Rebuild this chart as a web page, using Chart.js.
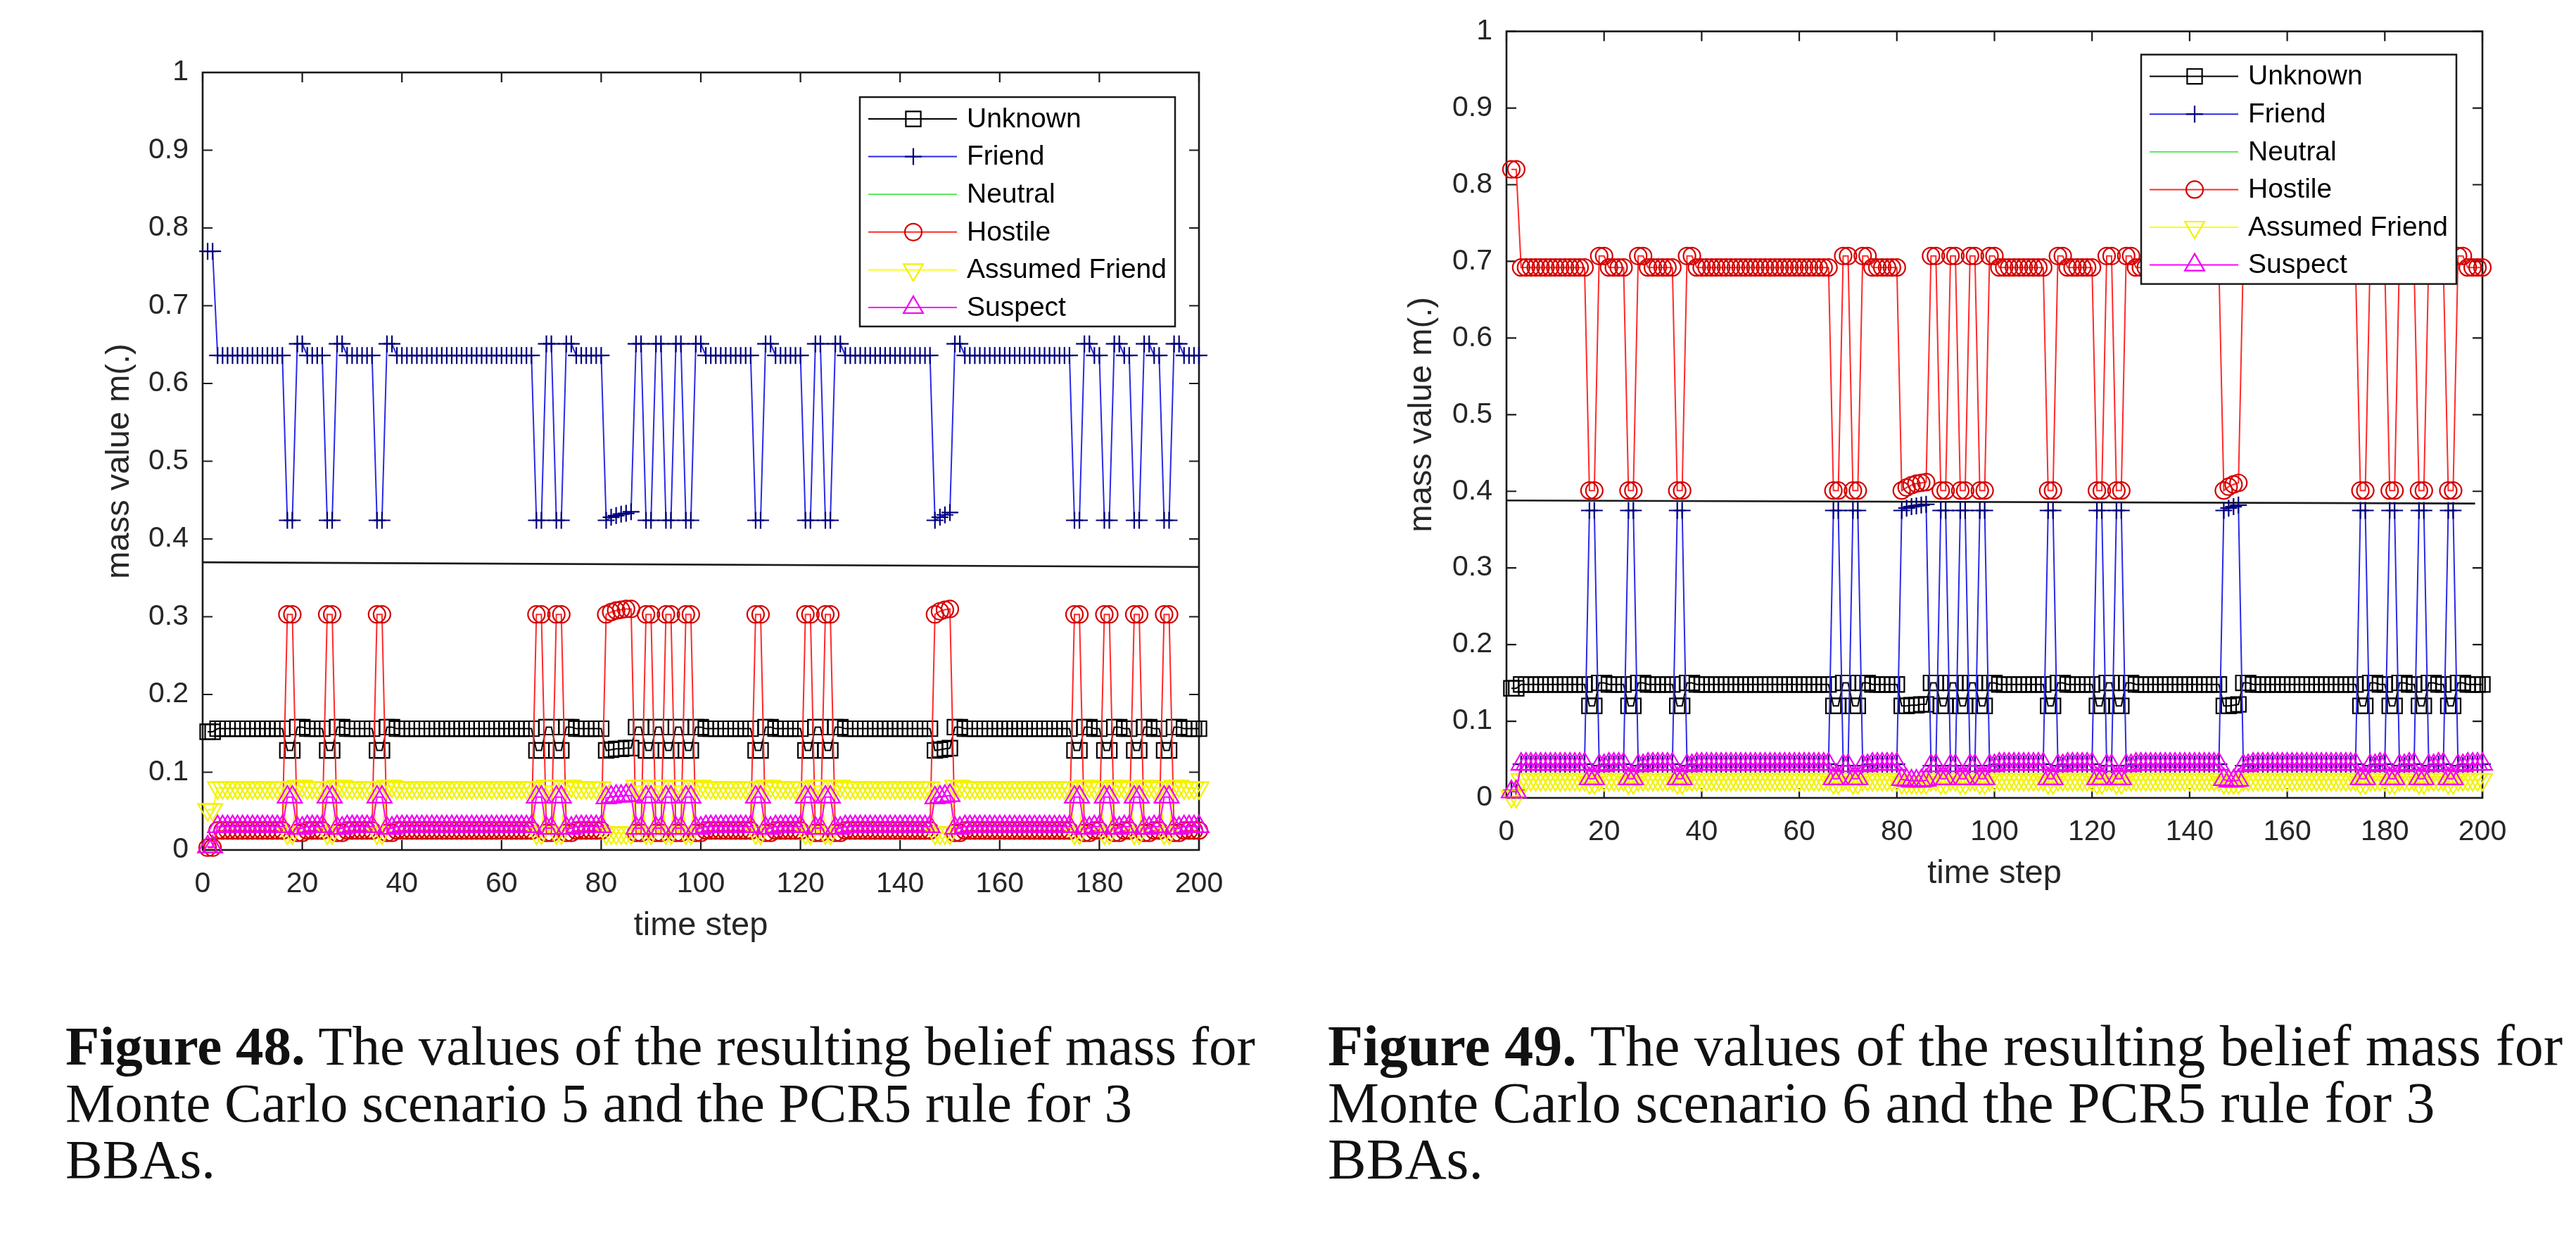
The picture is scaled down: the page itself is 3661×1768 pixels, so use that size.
<!DOCTYPE html>
<html>
<head>
<meta charset="utf-8">
<script src="https://cdn.jsdelivr.net/npm/chart.js@4.4.1/dist/chart.umd.min.js"></script>
<style>
  html, body { margin: 0; padding: 0; background: #fff; }
  body { width: 3661px; height: 1768px; position: relative; overflow: hidden; }
  canvas { position: absolute; top: 0; }
  #c5 { left: 0; }
  #c6 { left: 1853px; }
  .caption {
    position: absolute; top: 1447px;
    font-family: "Liberation Serif", "Times New Roman", serif;
    line-height: 80.5px; color: #111; white-space: nowrap;
  }
</style>
</head>
<body>
<canvas id="c5" width="1830" height="1400" style="width:1830px;height:1400px"></canvas>
<canvas id="c6" width="1808" height="1400" style="width:1808px;height:1400px"></canvas>
<div class="caption" style="left:93px;font-size:79px"><b>Figure 48.</b> The values of the resulting belief mass for<br>Monte Carlo scenario 5 and the PCR5 rule for 3<br>BBAs.</div>
<div class="caption" style="left:1887px;font-size:82px"><b>Figure 49.</b> The values of the resulting belief mass for<br>Monte Carlo scenario 6 and the PCR5 rule for 3<br>BBAs.</div>
<script>
// time steps (x)
const steps = [
  1,2,3,4,5,6,7,8,9,10,11,12,13,14,15,16,17,18,19,20,
  21,22,23,24,25,26,27,28,29,30,31,32,33,34,35,36,37,38,39,40,
  41,42,43,44,45,46,47,48,49,50,51,52,53,54,55,56,57,58,59,60,
  61,62,63,64,65,66,67,68,69,70,71,72,73,74,75,76,77,78,79,80,
  81,82,83,84,85,86,87,88,89,90,91,92,93,94,95,96,97,98,99,100,
  101,102,103,104,105,106,107,108,109,110,111,112,113,114,115,116,117,118,119,120,
  121,122,123,124,125,126,127,128,129,130,131,132,133,134,135,136,137,138,139,140,
  141,142,143,144,145,146,147,148,149,150,151,152,153,154,155,156,157,158,159,160,
  161,162,163,164,165,166,167,168,169,170,171,172,173,174,175,176,177,178,179,180,
  181,182,183,184,185,186,187,188,189,190,191,192,193,194,195,196,197,198,199,200
];

const seriesNames = ['Unknown', 'Friend', 'Neutral', 'Hostile', 'Assumed Friend', 'Suspect'];

// ---- Figure 48: scenario 5 ----
const unknown5 = [
  0.152,0.152,0.156,0.156,0.156,0.156,0.156,0.156,0.156,0.156,
  0.156,0.156,0.156,0.156,0.156,0.156,0.128,0.128,0.158,0.158,
  0.156,0.156,0.156,0.156,0.128,0.128,0.158,0.158,0.156,0.156,
  0.156,0.156,0.156,0.156,0.128,0.128,0.158,0.158,0.156,0.156,
  0.156,0.156,0.156,0.156,0.156,0.156,0.156,0.156,0.156,0.156,
  0.156,0.156,0.156,0.156,0.156,0.156,0.156,0.156,0.156,0.156,
  0.156,0.156,0.156,0.156,0.156,0.156,0.128,0.128,0.158,0.158,
  0.128,0.128,0.158,0.158,0.156,0.156,0.156,0.156,0.156,0.156,
  0.128,0.129,0.130,0.130,0.131,0.131,0.158,0.158,0.128,0.128,
  0.158,0.158,0.128,0.128,0.158,0.158,0.128,0.128,0.158,0.158,
  0.156,0.156,0.156,0.156,0.156,0.156,0.156,0.156,0.156,0.156,
  0.128,0.128,0.158,0.158,0.156,0.156,0.156,0.156,0.156,0.156,
  0.128,0.128,0.158,0.158,0.128,0.128,0.158,0.158,0.156,0.156,
  0.156,0.156,0.156,0.156,0.156,0.156,0.156,0.156,0.156,0.156,
  0.156,0.156,0.156,0.156,0.156,0.156,0.128,0.129,0.130,0.131,
  0.158,0.158,0.156,0.156,0.156,0.156,0.156,0.156,0.156,0.156,
  0.156,0.156,0.156,0.156,0.156,0.156,0.156,0.156,0.156,0.156,
  0.156,0.156,0.156,0.156,0.128,0.128,0.158,0.158,0.156,0.156,
  0.128,0.128,0.158,0.158,0.156,0.156,0.128,0.128,0.158,0.158,
  0.156,0.156,0.128,0.128,0.158,0.158,0.156,0.156,0.156,0.156
];
const friend5 = [
  0.770,0.770,0.636,0.636,0.636,0.636,0.636,0.636,0.636,0.636,
  0.636,0.636,0.636,0.636,0.636,0.636,0.424,0.424,0.651,0.651,
  0.636,0.636,0.636,0.636,0.424,0.424,0.651,0.651,0.636,0.636,
  0.636,0.636,0.636,0.636,0.424,0.424,0.651,0.651,0.636,0.636,
  0.636,0.636,0.636,0.636,0.636,0.636,0.636,0.636,0.636,0.636,
  0.636,0.636,0.636,0.636,0.636,0.636,0.636,0.636,0.636,0.636,
  0.636,0.636,0.636,0.636,0.636,0.636,0.424,0.424,0.651,0.651,
  0.424,0.424,0.651,0.651,0.636,0.636,0.636,0.636,0.636,0.636,
  0.424,0.428,0.430,0.432,0.433,0.435,0.651,0.651,0.424,0.424,
  0.651,0.651,0.424,0.424,0.651,0.651,0.424,0.424,0.651,0.651,
  0.636,0.636,0.636,0.636,0.636,0.636,0.636,0.636,0.636,0.636,
  0.424,0.424,0.651,0.651,0.636,0.636,0.636,0.636,0.636,0.636,
  0.424,0.424,0.651,0.651,0.424,0.424,0.651,0.651,0.636,0.636,
  0.636,0.636,0.636,0.636,0.636,0.636,0.636,0.636,0.636,0.636,
  0.636,0.636,0.636,0.636,0.636,0.636,0.424,0.428,0.431,0.434,
  0.651,0.651,0.636,0.636,0.636,0.636,0.636,0.636,0.636,0.636,
  0.636,0.636,0.636,0.636,0.636,0.636,0.636,0.636,0.636,0.636,
  0.636,0.636,0.636,0.636,0.424,0.424,0.651,0.651,0.636,0.636,
  0.424,0.424,0.651,0.651,0.636,0.636,0.424,0.424,0.651,0.651,
  0.636,0.636,0.424,0.424,0.651,0.651,0.636,0.636,0.636,0.636
];
const neutral5 = [
  0.052,0.052,0.080,0.080,0.080,0.080,0.080,0.080,0.080,0.080,
  0.080,0.080,0.080,0.080,0.080,0.080,0.022,0.022,0.082,0.082,
  0.080,0.080,0.080,0.080,0.022,0.022,0.082,0.082,0.080,0.080,
  0.080,0.080,0.080,0.080,0.022,0.022,0.082,0.082,0.080,0.080,
  0.080,0.080,0.080,0.080,0.080,0.080,0.080,0.080,0.080,0.080,
  0.080,0.080,0.080,0.080,0.080,0.080,0.080,0.080,0.080,0.080,
  0.080,0.080,0.080,0.080,0.080,0.080,0.022,0.022,0.082,0.082,
  0.022,0.022,0.082,0.082,0.080,0.080,0.080,0.080,0.080,0.080,
  0.022,0.022,0.022,0.022,0.022,0.022,0.082,0.082,0.022,0.022,
  0.082,0.082,0.022,0.022,0.082,0.082,0.022,0.022,0.082,0.082,
  0.080,0.080,0.080,0.080,0.080,0.080,0.080,0.080,0.080,0.080,
  0.022,0.022,0.082,0.082,0.080,0.080,0.080,0.080,0.080,0.080,
  0.022,0.022,0.082,0.082,0.022,0.022,0.082,0.082,0.080,0.080,
  0.080,0.080,0.080,0.080,0.080,0.080,0.080,0.080,0.080,0.080,
  0.080,0.080,0.080,0.080,0.080,0.080,0.022,0.022,0.022,0.022,
  0.082,0.082,0.080,0.080,0.080,0.080,0.080,0.080,0.080,0.080,
  0.080,0.080,0.080,0.080,0.080,0.080,0.080,0.080,0.080,0.080,
  0.080,0.080,0.080,0.080,0.022,0.022,0.082,0.082,0.080,0.080,
  0.022,0.022,0.082,0.082,0.080,0.080,0.022,0.022,0.082,0.082,
  0.080,0.080,0.022,0.022,0.082,0.082,0.080,0.080,0.080,0.080
];
const hostile5 = [
  0.003,0.003,0.025,0.025,0.025,0.025,0.025,0.025,0.025,0.025,
  0.025,0.025,0.025,0.025,0.025,0.025,0.303,0.303,0.022,0.022,
  0.025,0.025,0.025,0.025,0.303,0.303,0.022,0.022,0.025,0.025,
  0.025,0.025,0.025,0.025,0.303,0.303,0.022,0.022,0.025,0.025,
  0.025,0.025,0.025,0.025,0.025,0.025,0.025,0.025,0.025,0.025,
  0.025,0.025,0.025,0.025,0.025,0.025,0.025,0.025,0.025,0.025,
  0.025,0.025,0.025,0.025,0.025,0.025,0.303,0.303,0.022,0.022,
  0.303,0.303,0.022,0.022,0.025,0.025,0.025,0.025,0.025,0.025,
  0.303,0.306,0.308,0.309,0.310,0.310,0.022,0.022,0.303,0.303,
  0.022,0.022,0.303,0.303,0.022,0.022,0.303,0.303,0.022,0.022,
  0.025,0.025,0.025,0.025,0.025,0.025,0.025,0.025,0.025,0.025,
  0.303,0.303,0.022,0.022,0.025,0.025,0.025,0.025,0.025,0.025,
  0.303,0.303,0.022,0.022,0.303,0.303,0.022,0.022,0.025,0.025,
  0.025,0.025,0.025,0.025,0.025,0.025,0.025,0.025,0.025,0.025,
  0.025,0.025,0.025,0.025,0.025,0.025,0.303,0.307,0.309,0.310,
  0.022,0.022,0.025,0.025,0.025,0.025,0.025,0.025,0.025,0.025,
  0.025,0.025,0.025,0.025,0.025,0.025,0.025,0.025,0.025,0.025,
  0.025,0.025,0.025,0.025,0.303,0.303,0.022,0.022,0.025,0.025,
  0.303,0.303,0.022,0.022,0.025,0.025,0.303,0.303,0.022,0.022,
  0.025,0.025,0.303,0.303,0.022,0.022,0.025,0.025,0.025,0.025
];
const assumed5 = [
  0.052,0.052,0.080,0.080,0.080,0.080,0.080,0.080,0.080,0.080,
  0.080,0.080,0.080,0.080,0.080,0.080,0.022,0.022,0.082,0.082,
  0.080,0.080,0.080,0.080,0.022,0.022,0.082,0.082,0.080,0.080,
  0.080,0.080,0.080,0.080,0.022,0.022,0.082,0.082,0.080,0.080,
  0.080,0.080,0.080,0.080,0.080,0.080,0.080,0.080,0.080,0.080,
  0.080,0.080,0.080,0.080,0.080,0.080,0.080,0.080,0.080,0.080,
  0.080,0.080,0.080,0.080,0.080,0.080,0.022,0.022,0.082,0.082,
  0.022,0.022,0.082,0.082,0.080,0.080,0.080,0.080,0.080,0.080,
  0.022,0.022,0.022,0.022,0.022,0.022,0.082,0.082,0.022,0.022,
  0.082,0.082,0.022,0.022,0.082,0.082,0.022,0.022,0.082,0.082,
  0.080,0.080,0.080,0.080,0.080,0.080,0.080,0.080,0.080,0.080,
  0.022,0.022,0.082,0.082,0.080,0.080,0.080,0.080,0.080,0.080,
  0.022,0.022,0.082,0.082,0.022,0.022,0.082,0.082,0.080,0.080,
  0.080,0.080,0.080,0.080,0.080,0.080,0.080,0.080,0.080,0.080,
  0.080,0.080,0.080,0.080,0.080,0.080,0.022,0.022,0.022,0.022,
  0.082,0.082,0.080,0.080,0.080,0.080,0.080,0.080,0.080,0.080,
  0.080,0.080,0.080,0.080,0.080,0.080,0.080,0.080,0.080,0.080,
  0.080,0.080,0.080,0.080,0.022,0.022,0.082,0.082,0.080,0.080,
  0.022,0.022,0.082,0.082,0.080,0.080,0.022,0.022,0.082,0.082,
  0.080,0.080,0.022,0.022,0.082,0.082,0.080,0.080,0.080,0.080
];
const suspect5 = [
  0.004,0.004,0.030,0.030,0.030,0.030,0.030,0.030,0.030,0.030,
  0.030,0.030,0.030,0.030,0.030,0.030,0.068,0.068,0.028,0.028,
  0.030,0.030,0.030,0.030,0.068,0.068,0.028,0.028,0.030,0.030,
  0.030,0.030,0.030,0.030,0.068,0.068,0.028,0.028,0.030,0.030,
  0.030,0.030,0.030,0.030,0.030,0.030,0.030,0.030,0.030,0.030,
  0.030,0.030,0.030,0.030,0.030,0.030,0.030,0.030,0.030,0.030,
  0.030,0.030,0.030,0.030,0.030,0.030,0.068,0.068,0.028,0.028,
  0.068,0.068,0.028,0.028,0.030,0.030,0.030,0.030,0.030,0.030,
  0.067,0.068,0.069,0.069,0.070,0.070,0.028,0.028,0.068,0.068,
  0.028,0.028,0.068,0.068,0.028,0.028,0.068,0.068,0.028,0.028,
  0.030,0.030,0.030,0.030,0.030,0.030,0.030,0.030,0.030,0.030,
  0.068,0.068,0.028,0.028,0.030,0.030,0.030,0.030,0.030,0.030,
  0.068,0.068,0.028,0.028,0.068,0.068,0.028,0.028,0.030,0.030,
  0.030,0.030,0.030,0.030,0.030,0.030,0.030,0.030,0.030,0.030,
  0.030,0.030,0.030,0.030,0.030,0.030,0.067,0.068,0.069,0.070,
  0.028,0.028,0.030,0.030,0.030,0.030,0.030,0.030,0.030,0.030,
  0.030,0.030,0.030,0.030,0.030,0.030,0.030,0.030,0.030,0.030,
  0.030,0.030,0.030,0.030,0.068,0.068,0.028,0.028,0.030,0.030,
  0.068,0.068,0.028,0.028,0.030,0.030,0.068,0.068,0.028,0.028,
  0.030,0.030,0.068,0.068,0.028,0.028,0.030,0.030,0.030,0.030
];
const refX5 = [0, 200];
const refY5 = [0.370, 0.364];

// ---- Figure 49: scenario 6 ----
const unknown6 = [
  0.143,0.143,0.148,0.148,0.148,0.148,0.148,0.148,0.148,0.148,
  0.148,0.148,0.148,0.148,0.148,0.148,0.120,0.120,0.150,0.150,
  0.148,0.148,0.148,0.148,0.120,0.120,0.150,0.150,0.148,0.148,
  0.148,0.148,0.148,0.148,0.120,0.120,0.150,0.150,0.148,0.148,
  0.148,0.148,0.148,0.148,0.148,0.148,0.148,0.148,0.148,0.148,
  0.148,0.148,0.148,0.148,0.148,0.148,0.148,0.148,0.148,0.148,
  0.148,0.148,0.148,0.148,0.148,0.148,0.120,0.120,0.150,0.150,
  0.120,0.120,0.150,0.150,0.148,0.148,0.148,0.148,0.148,0.148,
  0.120,0.120,0.121,0.121,0.122,0.122,0.150,0.150,0.120,0.120,
  0.150,0.150,0.120,0.120,0.150,0.150,0.120,0.120,0.150,0.150,
  0.148,0.148,0.148,0.148,0.148,0.148,0.148,0.148,0.148,0.148,
  0.120,0.120,0.150,0.150,0.148,0.148,0.148,0.148,0.148,0.148,
  0.120,0.120,0.150,0.150,0.120,0.120,0.150,0.150,0.148,0.148,
  0.148,0.148,0.148,0.148,0.148,0.148,0.148,0.148,0.148,0.148,
  0.148,0.148,0.148,0.148,0.148,0.148,0.120,0.120,0.121,0.122,
  0.150,0.150,0.148,0.148,0.148,0.148,0.148,0.148,0.148,0.148,
  0.148,0.148,0.148,0.148,0.148,0.148,0.148,0.148,0.148,0.148,
  0.148,0.148,0.148,0.148,0.120,0.120,0.150,0.150,0.148,0.148,
  0.120,0.120,0.150,0.150,0.148,0.148,0.120,0.120,0.150,0.150,
  0.148,0.148,0.120,0.120,0.150,0.150,0.148,0.148,0.148,0.148
];
const friend6 = [
  0.010,0.010,0.044,0.044,0.044,0.044,0.044,0.044,0.044,0.044,
  0.044,0.044,0.044,0.044,0.044,0.044,0.375,0.375,0.042,0.042,
  0.044,0.044,0.044,0.044,0.375,0.375,0.042,0.042,0.044,0.044,
  0.044,0.044,0.044,0.044,0.375,0.375,0.042,0.042,0.044,0.044,
  0.044,0.044,0.044,0.044,0.044,0.044,0.044,0.044,0.044,0.044,
  0.044,0.044,0.044,0.044,0.044,0.044,0.044,0.044,0.044,0.044,
  0.044,0.044,0.044,0.044,0.044,0.044,0.375,0.375,0.042,0.042,
  0.375,0.375,0.042,0.042,0.044,0.044,0.044,0.044,0.044,0.044,
  0.375,0.378,0.380,0.381,0.382,0.383,0.042,0.042,0.375,0.375,
  0.042,0.042,0.375,0.375,0.042,0.042,0.375,0.375,0.042,0.042,
  0.044,0.044,0.044,0.044,0.044,0.044,0.044,0.044,0.044,0.044,
  0.375,0.375,0.042,0.042,0.044,0.044,0.044,0.044,0.044,0.044,
  0.375,0.375,0.042,0.042,0.375,0.375,0.042,0.042,0.044,0.044,
  0.044,0.044,0.044,0.044,0.044,0.044,0.044,0.044,0.044,0.044,
  0.044,0.044,0.044,0.044,0.044,0.044,0.375,0.378,0.380,0.382,
  0.042,0.042,0.044,0.044,0.044,0.044,0.044,0.044,0.044,0.044,
  0.044,0.044,0.044,0.044,0.044,0.044,0.044,0.044,0.044,0.044,
  0.044,0.044,0.044,0.044,0.375,0.375,0.042,0.042,0.044,0.044,
  0.375,0.375,0.042,0.042,0.044,0.044,0.375,0.375,0.042,0.042,
  0.044,0.044,0.375,0.375,0.042,0.042,0.044,0.044,0.044,0.044
];
const neutral6 = [
  0.008,0.008,0.044,0.044,0.044,0.044,0.044,0.044,0.044,0.044,
  0.044,0.044,0.044,0.044,0.044,0.044,0.025,0.025,0.042,0.042,
  0.044,0.044,0.044,0.044,0.025,0.025,0.042,0.042,0.044,0.044,
  0.044,0.044,0.044,0.044,0.025,0.025,0.042,0.042,0.044,0.044,
  0.044,0.044,0.044,0.044,0.044,0.044,0.044,0.044,0.044,0.044,
  0.044,0.044,0.044,0.044,0.044,0.044,0.044,0.044,0.044,0.044,
  0.044,0.044,0.044,0.044,0.044,0.044,0.025,0.025,0.042,0.042,
  0.025,0.025,0.042,0.042,0.044,0.044,0.044,0.044,0.044,0.044,
  0.024,0.023,0.022,0.022,0.022,0.023,0.042,0.042,0.025,0.025,
  0.042,0.042,0.025,0.025,0.042,0.042,0.025,0.025,0.042,0.042,
  0.044,0.044,0.044,0.044,0.044,0.044,0.044,0.044,0.044,0.044,
  0.025,0.025,0.042,0.042,0.044,0.044,0.044,0.044,0.044,0.044,
  0.025,0.025,0.042,0.042,0.025,0.025,0.042,0.042,0.044,0.044,
  0.044,0.044,0.044,0.044,0.044,0.044,0.044,0.044,0.044,0.044,
  0.044,0.044,0.044,0.044,0.044,0.044,0.024,0.022,0.022,0.023,
  0.042,0.042,0.044,0.044,0.044,0.044,0.044,0.044,0.044,0.044,
  0.044,0.044,0.044,0.044,0.044,0.044,0.044,0.044,0.044,0.044,
  0.044,0.044,0.044,0.044,0.025,0.025,0.042,0.042,0.044,0.044,
  0.025,0.025,0.042,0.042,0.044,0.044,0.025,0.025,0.042,0.042,
  0.044,0.044,0.025,0.025,0.042,0.042,0.044,0.044,0.044,0.044
];
const hostile6 = [
  0.820,0.820,0.692,0.692,0.692,0.692,0.692,0.692,0.692,0.692,
  0.692,0.692,0.692,0.692,0.692,0.692,0.401,0.401,0.707,0.707,
  0.692,0.692,0.692,0.692,0.401,0.401,0.707,0.707,0.692,0.692,
  0.692,0.692,0.692,0.692,0.401,0.401,0.707,0.707,0.692,0.692,
  0.692,0.692,0.692,0.692,0.692,0.692,0.692,0.692,0.692,0.692,
  0.692,0.692,0.692,0.692,0.692,0.692,0.692,0.692,0.692,0.692,
  0.692,0.692,0.692,0.692,0.692,0.692,0.401,0.401,0.707,0.707,
  0.401,0.401,0.707,0.707,0.692,0.692,0.692,0.692,0.692,0.692,
  0.401,0.405,0.408,0.410,0.411,0.412,0.707,0.707,0.401,0.401,
  0.707,0.707,0.401,0.401,0.707,0.707,0.401,0.401,0.707,0.707,
  0.692,0.692,0.692,0.692,0.692,0.692,0.692,0.692,0.692,0.692,
  0.401,0.401,0.707,0.707,0.692,0.692,0.692,0.692,0.692,0.692,
  0.401,0.401,0.707,0.707,0.401,0.401,0.707,0.707,0.692,0.692,
  0.692,0.692,0.692,0.692,0.692,0.692,0.692,0.692,0.692,0.692,
  0.692,0.692,0.692,0.692,0.692,0.692,0.401,0.406,0.409,0.411,
  0.707,0.707,0.692,0.692,0.692,0.692,0.692,0.692,0.692,0.692,
  0.692,0.692,0.692,0.692,0.692,0.692,0.692,0.692,0.692,0.692,
  0.692,0.692,0.692,0.692,0.401,0.401,0.707,0.707,0.692,0.692,
  0.401,0.401,0.707,0.707,0.692,0.692,0.401,0.401,0.707,0.707,
  0.692,0.692,0.401,0.401,0.707,0.707,0.692,0.692,0.692,0.692
];
const assumed6 = [
  0.002,0.002,0.024,0.024,0.024,0.024,0.024,0.024,0.024,0.024,
  0.024,0.024,0.024,0.024,0.024,0.024,0.020,0.020,0.024,0.024,
  0.024,0.024,0.024,0.024,0.020,0.020,0.024,0.024,0.024,0.024,
  0.024,0.024,0.024,0.024,0.020,0.020,0.024,0.024,0.024,0.024,
  0.024,0.024,0.024,0.024,0.024,0.024,0.024,0.024,0.024,0.024,
  0.024,0.024,0.024,0.024,0.024,0.024,0.024,0.024,0.024,0.024,
  0.024,0.024,0.024,0.024,0.024,0.024,0.020,0.020,0.024,0.024,
  0.020,0.020,0.024,0.024,0.024,0.024,0.024,0.024,0.024,0.024,
  0.020,0.020,0.020,0.020,0.020,0.020,0.024,0.024,0.020,0.020,
  0.024,0.024,0.020,0.020,0.024,0.024,0.020,0.020,0.024,0.024,
  0.024,0.024,0.024,0.024,0.024,0.024,0.024,0.024,0.024,0.024,
  0.020,0.020,0.024,0.024,0.024,0.024,0.024,0.024,0.024,0.024,
  0.020,0.020,0.024,0.024,0.020,0.020,0.024,0.024,0.024,0.024,
  0.024,0.024,0.024,0.024,0.024,0.024,0.024,0.024,0.024,0.024,
  0.024,0.024,0.024,0.024,0.024,0.024,0.020,0.020,0.020,0.020,
  0.024,0.024,0.024,0.024,0.024,0.024,0.024,0.024,0.024,0.024,
  0.024,0.024,0.024,0.024,0.024,0.024,0.024,0.024,0.024,0.024,
  0.024,0.024,0.024,0.024,0.020,0.020,0.024,0.024,0.024,0.024,
  0.020,0.020,0.024,0.024,0.024,0.024,0.020,0.020,0.024,0.024,
  0.024,0.024,0.020,0.020,0.024,0.024,0.024,0.024,0.024,0.024
];
const suspect6 = [
  0.008,0.008,0.044,0.044,0.044,0.044,0.044,0.044,0.044,0.044,
  0.044,0.044,0.044,0.044,0.044,0.044,0.025,0.025,0.042,0.042,
  0.044,0.044,0.044,0.044,0.025,0.025,0.042,0.042,0.044,0.044,
  0.044,0.044,0.044,0.044,0.025,0.025,0.042,0.042,0.044,0.044,
  0.044,0.044,0.044,0.044,0.044,0.044,0.044,0.044,0.044,0.044,
  0.044,0.044,0.044,0.044,0.044,0.044,0.044,0.044,0.044,0.044,
  0.044,0.044,0.044,0.044,0.044,0.044,0.025,0.025,0.042,0.042,
  0.025,0.025,0.042,0.042,0.044,0.044,0.044,0.044,0.044,0.044,
  0.024,0.023,0.022,0.022,0.022,0.023,0.042,0.042,0.025,0.025,
  0.042,0.042,0.025,0.025,0.042,0.042,0.025,0.025,0.042,0.042,
  0.044,0.044,0.044,0.044,0.044,0.044,0.044,0.044,0.044,0.044,
  0.025,0.025,0.042,0.042,0.044,0.044,0.044,0.044,0.044,0.044,
  0.025,0.025,0.042,0.042,0.025,0.025,0.042,0.042,0.044,0.044,
  0.044,0.044,0.044,0.044,0.044,0.044,0.044,0.044,0.044,0.044,
  0.044,0.044,0.044,0.044,0.044,0.044,0.024,0.022,0.022,0.023,
  0.042,0.042,0.044,0.044,0.044,0.044,0.044,0.044,0.044,0.044,
  0.044,0.044,0.044,0.044,0.044,0.044,0.044,0.044,0.044,0.044,
  0.044,0.044,0.044,0.044,0.025,0.025,0.042,0.042,0.044,0.044,
  0.025,0.025,0.042,0.042,0.044,0.044,0.025,0.025,0.042,0.042,
  0.044,0.044,0.025,0.025,0.042,0.042,0.044,0.044,0.044,0.044
];
const refX6 = [0, 198.5];
const refY6 = [0.388, 0.384];

// MATLAB-like line specs
const styles = {
  'Unknown':        { line: '#000000', mark: '#000000', pointStyle: 'rect',     radius: 15, rotation: 0,   width: 2 },
  'Friend':         { line: '#2a2ae8', mark: '#00007a', pointStyle: 'cross',    radius: 12, rotation: 0,   width: 2 },
  'Neutral':        { line: '#00dd00', mark: '#00dd00', pointStyle: 'circle',   radius: 0,  rotation: 0,   width: 1.2 },
  'Hostile':        { line: '#ff2a2a', mark: '#d40000', pointStyle: 'circle',   radius: 12, rotation: 0,   width: 2 },
  'Assumed Friend': { line: '#ffff00', mark: '#f2f200', pointStyle: 'triangle', radius: 16, rotation: 180, width: 2 },
  'Suspect':        { line: '#ff00ff', mark: '#f000f0', pointStyle: 'triangle', radius: 16, rotation: 0,   width: 2 }
};

const tickFont = { family: '"Liberation Sans", Arial, sans-serif', size: 41, lineHeight: 1.2 };
const labelFont = { family: '"Liberation Sans", Arial, sans-serif', size: 47, lineHeight: 1.2 };

// box + inward ticks on all four sides
const boxTicks = {
  id: 'boxTicks',
  beforeDatasetsDraw(chart) {
    const { ctx, chartArea: a, scales: { x, y } } = chart;
    ctx.save();
    ctx.strokeStyle = '#1a1a1a';
    ctx.lineWidth = 2.6;
    ctx.strokeRect(a.left, a.top, a.right - a.left, a.bottom - a.top);
    ctx.lineWidth = 2.2;
    ctx.beginPath();
    x.ticks.forEach(t => {
      const px = x.getPixelForValue(t.value);
      ctx.moveTo(px, a.bottom); ctx.lineTo(px, a.bottom - 14);
      ctx.moveTo(px, a.top); ctx.lineTo(px, a.top + 14);
    });
    y.ticks.forEach(t => {
      const py = y.getPixelForValue(t.value);
      ctx.moveTo(a.left, py); ctx.lineTo(a.left + 14, py);
      ctx.moveTo(a.right, py); ctx.lineTo(a.right - 14, py);
    });
    ctx.stroke();
    ctx.restore();
  }
};

// opaque legend box in the upper right, like MATLAB's
function boxLegend(g) {
  return {
    id: 'boxLegend',
    afterDatasetsDraw(chart) {
      const { ctx, chartArea: a } = chart;
      const w = 448, h = 326;
      const left = a.right - g.legRight - w;
      const top = a.top + g.legTop;
      ctx.save();
      ctx.fillStyle = '#fff';
      ctx.fillRect(left, top, w, h);
      ctx.strokeStyle = '#1a1a1a';
      ctx.lineWidth = 2.5;
      ctx.strokeRect(left, top, w, h);
      ctx.font = '39px "Liberation Sans", Arial, sans-serif';
      ctx.textBaseline = 'middle';
      seriesNames.forEach((name, i) => {
        const s = styles[name];
        const y = top + 31 + i * 53.6;
        ctx.strokeStyle = s.line;
        ctx.lineWidth = s.width;
        ctx.beginPath();
        ctx.moveTo(left + 12, y);
        ctx.lineTo(left + 138, y);
        ctx.stroke();
        if (s.radius > 0) {
          ctx.strokeStyle = s.mark;
          ctx.fillStyle = 'rgba(0,0,0,0)';
          ctx.lineWidth = 2.2;
          Chart.helpers.drawPoint(ctx, { pointStyle: s.pointStyle, radius: s.radius, rotation: s.rotation, borderWidth: 2.2 }, left + 76, y);
        }
        ctx.fillStyle = '#000';
        ctx.fillText(name, left + 152, y + 1);
      });
      ctx.restore();
    }
  };
}

function buildChart(canvasId, values, refX, refY, g) {
  const datasets = seriesNames.map((name, i) => {
    const s = styles[name];
    return {
      label: name,
      data: values[i],
      borderColor: s.line,
      borderWidth: s.width,
      pointStyle: s.pointStyle,
      pointRadius: s.radius,
      pointRotation: s.rotation,
      pointBorderColor: s.mark,
      pointBackgroundColor: 'rgba(0,0,0,0)',
      pointBorderWidth: 2.2,
      tension: 0,
      clip: false
    };
  }).reverse(); // last MATLAB series ends up on top
  datasets.push({
    label: '',
    data: refX.map((x, i) => ({ x: x, y: refY[i] })),
    borderColor: '#1a1a1a',
    borderWidth: 2.6,
    pointRadius: 0,
    clip: false
  });

  return new Chart(document.getElementById(canvasId), {
    type: 'line',
    data: { labels: steps, datasets: datasets },
    options: {
      responsive: false,
      devicePixelRatio: 1,
      animation: false,
      events: [],
      layout: { padding: { left: 0, top: g.top, right: g.right, bottom: 0 } },
      plugins: { legend: { display: false }, tooltip: { enabled: false } },
      scales: {
        x: {
          type: 'linear', min: 0, max: 200,
          afterFit: s => { s.height = g.xHeight; },
          grid: { display: false, drawTicks: false },
          border: { display: false },
          ticks: { stepSize: 20, autoSkip: false, maxRotation: 0, padding: 24, color: '#262626', font: tickFont },
          title: { display: true, text: 'time step', color: '#262626', font: labelFont, padding: { top: 0, bottom: g.xTitlePad } }
        },
        y: {
          min: 0, max: 1,
          afterFit: s => { s.width = 288; },
          grid: { display: false, drawTicks: false },
          border: { display: false },
          ticks: { stepSize: 0.1, padding: 20, color: '#262626', font: tickFont,
                   callback: v => String(Number(v.toFixed(1))) },
          title: { display: true, text: 'mass value m(.)', color: '#262626', font: labelFont, padding: { top: g.yTitlePad, bottom: 0 } }
        }
      }
    },
    plugins: [boxTicks, boxLegend(g)]
  });
}

buildChart('c5', [unknown5, friend5, neutral5, hostile5, assumed5, suspect5], refX5, refY5,
  { top: 103, right: 126, xHeight: 192, xTitlePad: 56, yTitlePad: 142, legRight: 34, legTop: 35 });
buildChart('c6', [unknown6, friend6, neutral6, hostile6, assumed6, suspect6], refX6, refY6,
  { top: 33, right: 133, xHeight: 266, xTitlePad: 130, yTitlePad: 140, legRight: 37, legTop: 33 });
</script>
</body>
</html>
